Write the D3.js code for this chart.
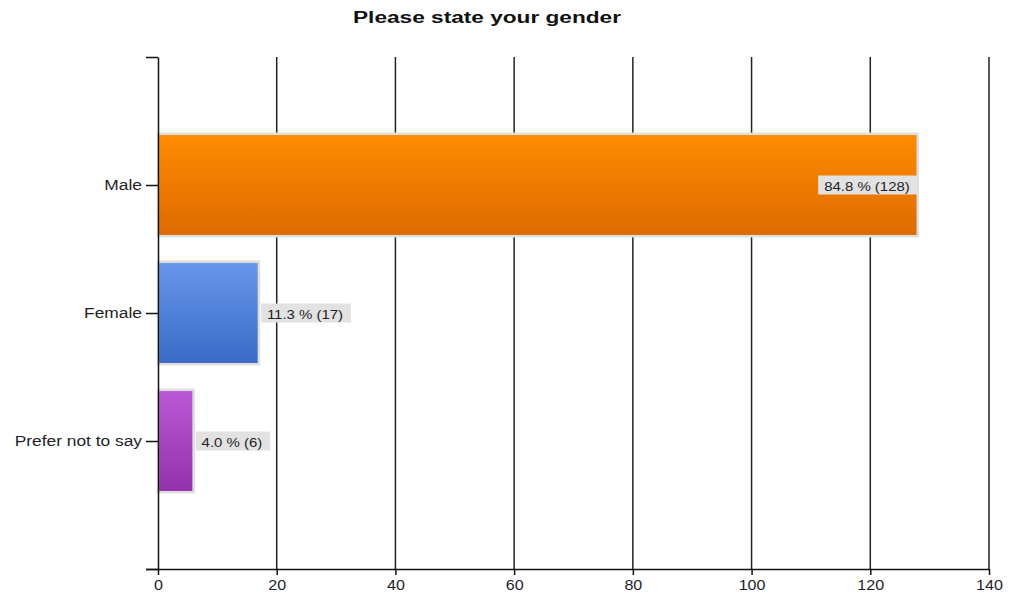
<!DOCTYPE html>
<html>
<head>
<meta charset="utf-8">
<script src="https://cdn.jsdelivr.net/npm/d3@7"></script>
<style>
  html, body { margin: 0; padding: 0; background: #fff; }
  svg { display: block; font-family: "Liberation Sans", Arial, sans-serif; }
</style>
</head>
<body>
<svg id="chart" width="1011" height="598"></svg>
<script>
// Survey responses: gender
const categories = ["Male", "Female", "Prefer not to say"];
const counts = [128, 17, 6];
const percents = [84.8, 11.3, 4.0];
const xTicks = [0, 20, 40, 60, 80, 100, 120, 140];
const gradients = [
  ["#ff8c00", "#dc6a00"],
  ["#6896ea", "#3a6ac6"],
  ["#bd58d6", "#9330ab"]
];

const svg = d3.select("#chart");
const margin = { left: 158, right: 989, top: 57, bottom: 569 };
const textColor = "#1e1e28";

// widen glyphs horizontally by a factor, keeping the anchor in place
function widen(sel, factor) {
  sel.each(function () {
    const len = this.getComputedTextLength();
    d3.select(this).attr("textLength", len * factor).attr("lengthAdjust", "spacingAndGlyphs");
  });
}

const x = d3.scaleLinear().domain([0, 140]).range([margin.left, margin.right]);
// end slots leave a blank step above and below the categories
const yDomain = ["__top", ...categories, "__bottom"];
const y = d3.scalePoint().domain(yDomain).range([margin.top, margin.bottom]);
const barH = y.step() * 0.8;

// gradients
const defs = svg.append("defs");
gradients.forEach((g, i) => {
  const lg = defs.append("linearGradient")
    .attr("id", "grad" + i).attr("x1", 0).attr("y1", 0).attr("x2", 0).attr("y2", 1);
  lg.append("stop").attr("offset", "0%").attr("stop-color", g[0]);
  lg.append("stop").attr("offset", "100%").attr("stop-color", g[1]);
});

// title
const title = svg.append("text")
  .attr("x", 487).attr("y", 23)
  .attr("text-anchor", "middle")
  .attr("font-size", 16).attr("font-weight", "bold").attr("fill", "#111")
  .text("Please state your gender");
title.attr("textLength", 268).attr("lengthAdjust", "spacingAndGlyphs");

// vertical gridlines
svg.append("g")
  .selectAll("line")
  .data(xTicks.filter(t => t > 0))
  .join("line")
  .attr("x1", d => x(d)).attr("x2", d => x(d))
  .attr("y1", margin.top).attr("y2", margin.bottom)
  .attr("stroke", "#222").attr("stroke-width", 1.5);

// bars
const data = categories.map((c, i) => ({ cat: c, count: counts[i], pct: percents[i], i }));
svg.append("g")
  .selectAll("rect")
  .data(data)
  .join("rect")
  .attr("x", x(0))
  .attr("y", d => y(d.cat) - barH / 2)
  .attr("width", d => x(d.count) - x(0))
  .attr("height", barH)
  .attr("fill", d => `url(#grad${d.i})`)
  .attr("stroke", "#dedede").attr("stroke-width", 2.5);

// value labels: outside the bar when they fit in the plot, otherwise inside
const labels = svg.append("g").selectAll("g").data(data).join("g");
labels.each(function (d) {
  const g = d3.select(this);
  const txt = `${d.pct.toFixed(1)} % (${d.count})`;
  const t = g.append("text")
    .attr("font-size", 13).attr("fill", textColor)
    .attr("dominant-baseline", "central")
    .text(txt);
  widen(t, 1.15);
  const w = +t.attr("textLength");
  const boxW = w + 14;
  const end = x(d.count);
  const inside = end + 2 + boxW > margin.right;
  const bx = inside ? end - boxW : end + 2;
  const cy = y(d.cat);
  g.insert("rect", "text")
    .attr("x", bx).attr("y", cy - 9.5)
    .attr("width", boxW).attr("height", 19)
    .attr("fill", "#e2e2e2");
  t.attr("x", bx + 6).attr("y", cy + 1);
});

// x axis
const xAxis = svg.append("g")
  .attr("transform", `translate(0,${margin.bottom})`)
  .call(d3.axisBottom(x).tickValues(xTicks).tickSize(6).tickSizeOuter(0).tickPadding(5));
xAxis.select(".domain").attr("stroke", "#111").attr("stroke-width", 1.5)
  .attr("d", `M${margin.left - 12},0.5H${margin.right}`);
xAxis.selectAll(".tick line").attr("stroke", "#111").attr("stroke-width", 1.5);
xAxis.selectAll(".tick text")
  .attr("font-size", 14).attr("fill", textColor)
  .attr("font-family", "Liberation Sans, Arial, sans-serif")
  .call(widen, 1.15);

// y axis
const yAxis = svg.append("g")
  .attr("transform", `translate(${margin.left},0)`)
  .call(d3.axisLeft(y).tickSize(12).tickSizeOuter(0).tickPadding(4)
    .tickFormat(d => d.startsWith("__") ? "" : d));
yAxis.select(".domain").attr("stroke", "#111").attr("stroke-width", 1.5);
yAxis.selectAll(".tick line").attr("stroke", "#111").attr("stroke-width", 1.5);
yAxis.selectAll(".tick text")
  .attr("font-size", 14).attr("fill", textColor)
  .attr("font-family", "Liberation Sans, Arial, sans-serif")
  .filter(d => !d.startsWith("__"))
  .call(widen, 1.24);
</script>
</body>
</html>
